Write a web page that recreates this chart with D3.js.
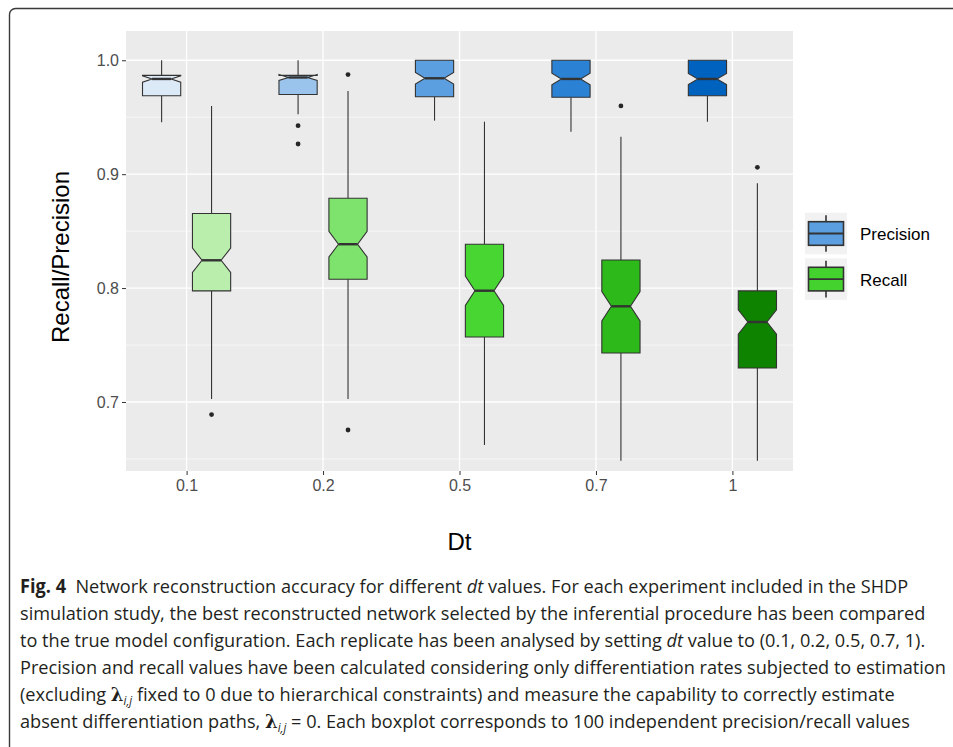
<!DOCTYPE html>
<html>
<head>
<meta charset="utf-8">
<script src="https://cdn.jsdelivr.net/npm/d3@7"></script>
<style>
  html, body { margin: 0; padding: 0; background: #ffffff; }
  svg { display: block; }
</style>
</head>
<body>
<svg id="chart" width="953" height="747"></svg>
<script>
// ---------------- data ----------------
const categories = ["0.1", "0.2", "0.5", "0.7", "1"];
const groups = ["Precision", "Recall"];
const yTicks = [0.7, 0.8, 0.9, 1.0];
const yMinorTicks = [0.65, 0.75, 0.85, 0.95];
const sampleSize = 100;

const precisionLower   = [0.9456, 0.9526, 0.9470, 0.9373, 0.9461];
const precisionQ1      = [0.9689, 0.9700, 0.9680, 0.9675, 0.9689];
const precisionMedian  = [0.9836, 0.9849, 0.9842, 0.9836, 0.9836];
const precisionQ3      = [0.9867, 0.9867, 1.0000, 1.0000, 1.0000];
const precisionUpper   = [1.0000, 1.0000, 1.0000, 1.0000, 1.0000];
const precisionOutliers = [[], [0.9426, 0.9265], [], [], []];

const recallLower   = [0.7026, 0.7026, 0.6622, 0.6485, 0.6485];
const recallQ1      = [0.7975, 0.8077, 0.7571, 0.7430, 0.7298];
const recallMedian  = [0.8244, 0.8385, 0.7977, 0.7840, 0.7702];
const recallQ3      = [0.8655, 0.8788, 0.8385, 0.8247, 0.7975];
const recallUpper   = [0.9599, 0.9730, 0.9461, 0.9329, 0.8920];
const recallOutliers = [[0.6889], [0.9874, 0.6754], [], [0.9599], [0.9060]];

const precisionColors = ["#dce9f7", "#9ac4ec", "#5b9fe0", "#2b82d5", "#0062bf"];
const recallColors    = ["#b9eeac", "#7ee36c", "#48d633", "#2cb919", "#0e8300"];
const legendColors    = ["#5b9fe0", "#44d22e"];

// ---------------- layout ----------------
const svg = d3.select("#chart");
const panel = { left: 126, right: 793, top: 31, bottom: 471 };
const FONT = "'Liberation Sans', Arial, Helvetica, sans-serif";

// outer figure frame
svg.append("rect")
  .attr("x", 9.5).attr("y", 8.5).attr("width", 1000).attr("height", 800)
  .attr("rx", 6).attr("fill", "none").attr("stroke", "#3a3a3a").attr("stroke-width", 1.4);

const x = d3.scalePoint().domain(categories).range([panel.left, panel.right]).padding(0.444);
const y = d3.scaleLinear().domain([0.6394, 1.0257]).range([panel.bottom, panel.top]);
const step = x.step();
const dodge = step * 0.183;
const boxW = step * 0.28;

// panel background
svg.append("rect")
  .attr("x", panel.left).attr("y", panel.top)
  .attr("width", panel.right - panel.left).attr("height", panel.bottom - panel.top)
  .attr("fill", "#ebebeb");

// grid
const grid = svg.append("g");
grid.selectAll("line.minor").data(yMinorTicks).join("line")
  .attr("x1", panel.left).attr("x2", panel.right)
  .attr("y1", d => y(d)).attr("y2", d => y(d))
  .attr("stroke", "#ffffff").attr("stroke-width", 0.6);
grid.selectAll("line.majory").data(yTicks).join("line")
  .attr("x1", panel.left).attr("x2", panel.right)
  .attr("y1", d => y(d)).attr("y2", d => y(d))
  .attr("stroke", "#ffffff").attr("stroke-width", 1.3);
grid.selectAll("line.majorx").data(categories).join("line")
  .attr("y1", panel.top).attr("y2", panel.bottom)
  .attr("x1", d => x(d)).attr("x2", d => x(d))
  .attr("stroke", "#ffffff").attr("stroke-width", 1.3);

// axes
const yAxis = d3.axisLeft(y).tickValues(yTicks).tickFormat(d3.format(".1f")).tickSize(4).tickPadding(3);
const gy = svg.append("g").attr("transform", `translate(${panel.left},0)`).call(yAxis);
gy.select(".domain").remove();
gy.selectAll(".tick line").attr("stroke", "#333333").attr("stroke-width", 1);
gy.selectAll(".tick text").attr("fill", "#4d4d4d").style("font-family", FONT).style("font-size", "16px");

const xAxis = d3.axisBottom(x).tickSize(4).tickPadding(5);
const gx = svg.append("g").attr("transform", `translate(0,${panel.bottom})`).call(xAxis);
gx.select(".domain").remove();
gx.selectAll(".tick line").attr("stroke", "#333333").attr("stroke-width", 1);
gx.selectAll(".tick text").attr("fill", "#4d4d4d").style("font-family", FONT).style("font-size", "16px");

// axis titles
svg.append("text")
  .attr("transform", `translate(69,${(panel.top + panel.bottom) / 2 + 6}) rotate(-90)`)
  .attr("text-anchor", "middle").attr("fill", "#000")
  .style("font-family", FONT).style("font-size", "24px")
  .text("Recall/Precision");
svg.append("text")
  .attr("x", (panel.left + panel.right) / 2).attr("y", 550)
  .attr("text-anchor", "middle").attr("fill", "#000")
  .style("font-family", FONT).style("font-size", "24px")
  .text("Dt");

// ---------------- boxes ----------------
const series = [
  { name: "Precision", lower: precisionLower, q1: precisionQ1, med: precisionMedian, q3: precisionQ3, upper: precisionUpper, out: precisionOutliers, colors: precisionColors, off: -dodge },
  { name: "Recall", lower: recallLower, q1: recallQ1, med: recallMedian, q3: recallQ3, upper: recallUpper, out: recallOutliers, colors: recallColors, off: dodge }
];

const boxes = [];
series.forEach(s => {
  categories.forEach((c, i) => {
    boxes.push({
      cx: x(c) + s.off, lower: s.lower[i], q1: s.q1[i], med: s.med[i], q3: s.q3[i],
      upper: s.upper[i], out: s.out[i], color: s.colors[i]
    });
  });
});

const gBoxes = svg.append("g");
boxes.forEach(b => {
  const g = gBoxes.append("g");
  const xmin = b.cx - boxW / 2, xmax = b.cx + boxW / 2;
  const iqr = b.q3 - b.q1;
  const nHalf = 1.58 * iqr / Math.sqrt(sampleSize);
  const nUp = b.med + nHalf, nLo = b.med - nHalf;
  const indent = (1 - 0.5) * boxW / 2;
  // whiskers
  g.append("line").attr("x1", b.cx).attr("x2", b.cx).attr("y1", y(b.q3)).attr("y2", y(b.upper))
    .attr("stroke", "#333333").attr("stroke-width", 1.1);
  g.append("line").attr("x1", b.cx).attr("x2", b.cx).attr("y1", y(b.q1)).attr("y2", y(b.lower))
    .attr("stroke", "#333333").attr("stroke-width", 1.1);
  // notched box polygon (ggplot style)
  const pts = [
    [xmin, y(b.q3)], [xmin, y(nUp)], [xmin + indent, y(b.med)], [xmin, y(nLo)], [xmin, y(b.q1)],
    [xmax, y(b.q1)], [xmax, y(nLo)], [xmax - indent, y(b.med)], [xmax, y(nUp)], [xmax, y(b.q3)]
  ];
  g.append("path").attr("d", d3.line()(pts) + "Z")
    .attr("fill", b.color).attr("stroke", "#333333").attr("stroke-width", 1.1)
    .attr("stroke-linejoin", "miter");
  g.append("line").attr("x1", xmin + indent).attr("x2", xmax - indent)
    .attr("y1", y(b.med)).attr("y2", y(b.med))
    .attr("stroke", "#333333").attr("stroke-width", 2.4);
  g.selectAll("circle").data(b.out).join("circle")
    .attr("cx", b.cx).attr("cy", d => y(d)).attr("r", 2.4).attr("fill", "#262626");
});

// ---------------- legend ----------------
const legend = svg.append("g");
groups.forEach((gname, i) => {
  const top = 212.7 + i * 45.6;
  const kx = 805, kw = 42, kh = 41.6;
  const lg = legend.append("g");
  lg.append("rect").attr("x", kx).attr("y", top).attr("width", kw).attr("height", kh).attr("fill", "#f2f2f2");
  const cx = kx + kw / 2;
  lg.append("line").attr("x1", cx).attr("x2", cx).attr("y1", top + 2.5).attr("y2", top + kh - 2.5)
    .attr("stroke", "#333333").attr("stroke-width", 1.6);
  lg.append("rect").attr("x", kx + 3.5).attr("y", top + 9).attr("width", kw - 7).attr("height", kh - 18)
    .attr("fill", legendColors[i]).attr("stroke", "#333333").attr("stroke-width", 1.6);
  lg.append("line").attr("x1", kx + 3.5).attr("x2", kx + kw - 3.5).attr("y1", top + kh / 2).attr("y2", top + kh / 2)
    .attr("stroke", "#333333").attr("stroke-width", 1.8);
  lg.append("text").attr("x", 860).attr("y", top + kh / 2 + 6.5)
    .attr("fill", "#000").style("font-family", FONT).style("font-size", "17px").text(gname);
});

// ---------------- caption ----------------
const CAP_FONT = "'Open Sans', 'Noto Sans', sans-serif";
const capLines = [
  { end: 921, parts: [["Fig. 4", "b"], ["  Network reconstruction accuracy for different ", ""], ["dt", "i"], [" values. For each experiment included in the SHDP", ""]] },
  { end: 937, parts: [["simulation study, the best reconstructed network selected by the inferential procedure has been compared", ""]] },
  { end: 929, parts: [["to the true model configuration. Each replicate has been analysed by setting ", ""], ["dt", "i"], [" value to (0.1, 0.2, 0.5, 0.7, 1).", ""]] },
  { end: 946, parts: [["Precision and recall values have been calculated considering only differentiation rates subjected to estimation", ""]] },
  { end: 811, parts: [["(excluding ", ""], ["λ", "l"], ["i,j", "s"], [" fixed to 0 due to hierarchical constraints) and measure the capability to correctly estimate", ""]] },
  { end: 931, parts: [["absent differentiation paths, ", ""], ["λ", "l"], ["i,j", "s"], [" = 0. Each boxplot corresponds to 100 independent precision/recall values", ""]] }
];
const capStartX = 20, capBase = 593, capGap = 27;
const capGroups = [];
const scales = [];
capLines.forEach((ln, i) => {
  const g = svg.append("g");
  const t = g.append("text").attr("x", 0).attr("y", 0).attr("fill", "#231f20")
    .style("font-family", CAP_FONT).style("font-size", "19px")
    .style("white-space", "pre");
  let prevSub = false;
  ln.parts.forEach(([txt, st]) => {
    const ts = t.append("tspan").text(txt);
    if (st === "b") ts.style("font-weight", "700");
    if (st === "i") ts.style("font-style", "italic");
    if (st === "l") ts.style("font-weight", "700").style("font-family", "'DejaVu Serif', serif");
    if (st === "s") ts.style("font-style", "italic").style("font-size", "12px").attr("dy", 4);
    if (prevSub) ts.attr("dy", -4);
    prevSub = (st === "s");
  });
  const w = t.node().getComputedTextLength();
  scales.push((ln.end - capStartX) / w);
  capGroups.push(g);
});
// one common horizontal scale; the widest line must stay inside the page
const capScale = Math.min(d3.median(scales), scales[3]);
capGroups.forEach((g, i) => {
  g.attr("transform", `translate(${capStartX},${capBase + i * capGap}) scale(${capScale},1)`);
});
</script>
</body>
</html>
